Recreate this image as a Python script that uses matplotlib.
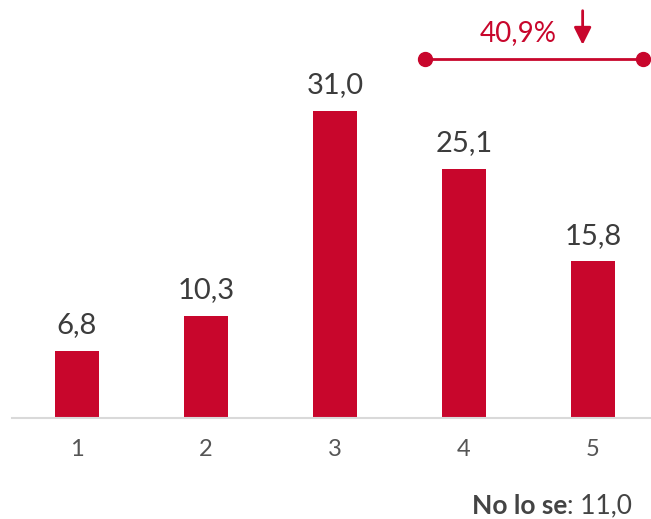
import matplotlib
matplotlib.use("Agg")
import matplotlib.pyplot as plt

# data
categories = ["1", "2", "3", "4", "5"]
values = [6.8, 10.3, 31.0, 25.1, 15.8]
no_lo_se = 11.0

red = "#C8062C"
grey_txt = "#3c3c3c"

plt.rcParams["font.family"] = ["Lato", "DejaVu Sans"]

fig = plt.figure(figsize=(6.51, 5.19), dpi=100)
ax = fig.add_axes([12 / 651, 101 / 519, 639 / 651, 418 / 519])

x = list(range(1, len(categories) + 1))
ax.bar(x, values, width=0.34, color=red, zorder=2)

for xi, v in zip(x, values):
    ax.text(xi, v + 1.3, f"{v:.1f}".replace(".", ","), ha="center", va="bottom",
            fontsize=21, color=grey_txt)

ax.set_xlim(0.496, 5.45)
ax.set_ylim(0, 42.2)
ax.set_xticks(x)
ax.set_xticklabels(categories, fontsize=17, color="#555555")
ax.tick_params(axis="x", length=0, pad=15)
ax.set_yticks([])
for s in ["top", "right", "left"]:
    ax.spines[s].set_visible(False)
ax.spines["bottom"].set_color("#d9d9d9")
ax.spines["bottom"].set_linewidth(1.5)

# bracket over the top two categories
top2 = values[3] + values[4]
bx0, bx1, by = 3.70, 5.39, 36.2
ax.plot([bx0, bx1], [by, by], color=red, lw=2, marker="o", markersize=10,
        clip_on=False, zorder=3)
ax.text(4.42, by + 1.4, f"{top2:.1f}%".replace(".", ","), ha="center", va="bottom",
        fontsize=20, color=red)
ax.annotate("", xy=(4.92, by + 1.2), xytext=(4.92, by + 5.2),
            arrowprops=dict(arrowstyle="-|>", color=red, lw=2, mutation_scale=26),
            annotation_clip=False)

t = fig.text(632 / 651, 1 - 506 / 519, f": {no_lo_se:.1f}".replace(".", ","),
             ha="right", va="center", fontsize=19, color="#444444")
fig.canvas.draw()
bb = t.get_window_extent()
fig.text(bb.x0 / fig.bbox.width, 1 - 506 / 519, "No lo se", ha="right", va="center",
         fontsize=19, color="#444444", fontweight="bold")

fig.savefig("out.png", dpi=100)
